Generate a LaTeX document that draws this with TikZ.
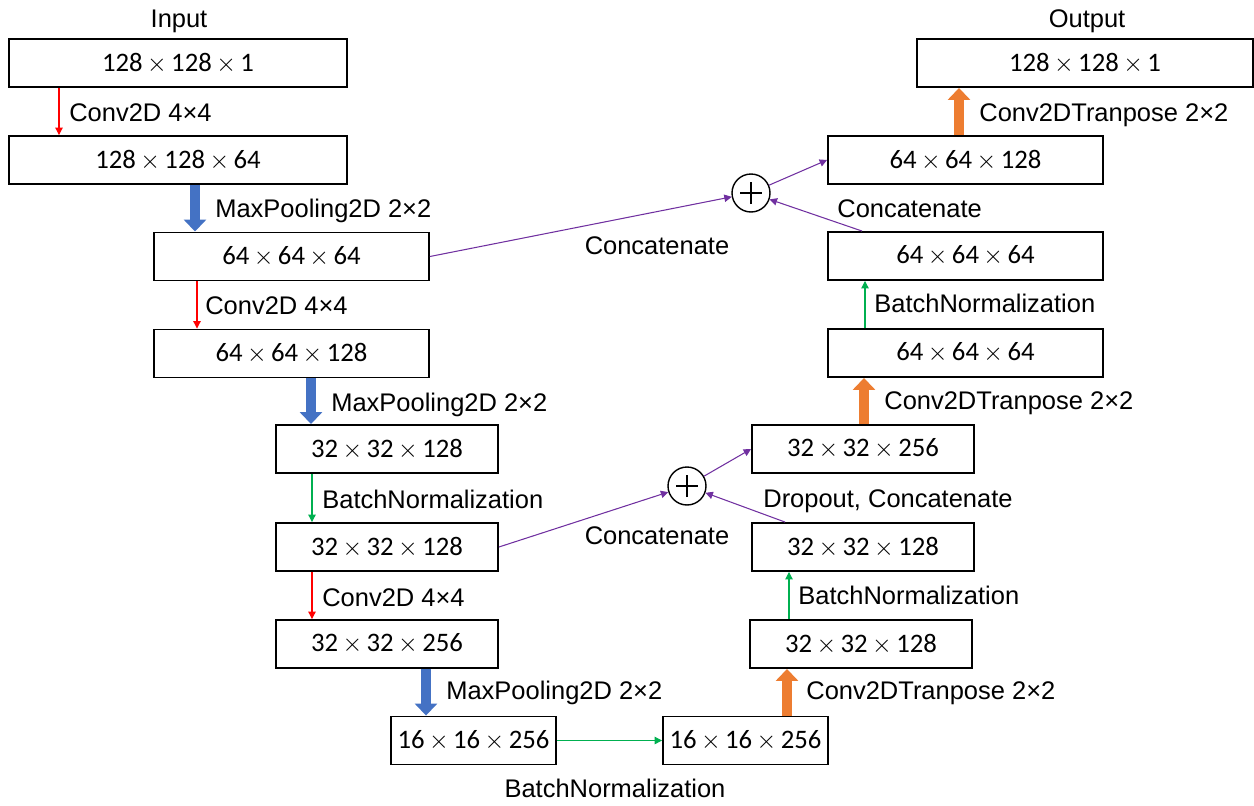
\documentclass[tikz,border=0pt]{standalone}
\usepackage{fontspec}
\setmainfont{Liberation Sans}
\newfontfamily\boxfont{Carlito}
\usetikzlibrary{arrows.meta}
\definecolor{cred}{RGB}{255,0,0}
\definecolor{cgreen}{RGB}{0,176,80}
\definecolor{cblue}{RGB}{68,114,196}
\definecolor{corange}{RGB}{237,125,49}
\definecolor{cpurple}{RGB}{112,48,160}
\newcommand\tx{\,$\times$\,}
\begin{document}
\begin{tikzpicture}[x=0.02cm,y=-0.02cm,
  layer/.style={draw, line width=1.1pt, minimum height=0.96cm, inner sep=0pt,
    font=\boxfont\fontsize{15.2pt}{16pt}\selectfont},
  wA/.style={minimum width=6.76cm},
  wB/.style={minimum width=5.5cm},
  wC/.style={minimum width=4.44cm},
  wD/.style={minimum width=3.3cm},
  lbl/.style={font=\fontsize{14.5pt}{16pt}\selectfont, inner sep=0pt},
  thin/.style={line width=0.6pt, -{Triangle[width=4.2pt,length=4.2pt]}},
  fat/.style={line width=5.8pt, -{Triangle[width=12.5pt,length=6.8pt]}},
  sum/.style={circle, draw, line width=0.8pt, minimum size=0.76cm, inner sep=0pt}
]
\useasboundingbox (0,0) rectangle (1254,805);

% boxes
\node[layer,wA] (b1) at (178,63) {128\tx128\tx1};
\node[layer,wA] (b2) at (178,160) {128\tx128\tx64};
\node[layer,wB] (b3) at (291.5,256.5) {64\tx64\tx64};
\node[layer,wB] (b4) at (291.5,353.5) {64\tx64\tx128};
\node[layer,wC] (b5) at (387,449) {32\tx32\tx128};
\node[layer,wC] (b6) at (387,547) {32\tx32\tx128};
\node[layer,wC] (b7) at (387,644) {32\tx32\tx256};
\node[layer,wD] (b8) at (473.5,740.5) {16\tx16\tx256};
\node[layer,wD] (b9) at (745.5,740.5) {16\tx16\tx256};
\node[layer,wC] (b10) at (861,644) {32\tx32\tx128};
\node[layer,wC] (b11) at (863,547) {32\tx32\tx128};
\node[layer,wC] (b12) at (863,449) {32\tx32\tx256};
\node[layer,wB] (b13) at (965.5,353) {64\tx64\tx64};
\node[layer,wB] (b14) at (965.5,256) {64\tx64\tx64};
\node[layer,wB] (b15) at (965.5,160) {64\tx64\tx128};
\node[layer,minimum width=6.72cm] (b16) at (1085,63) {128\tx128\tx1};

% sum circles
\node[sum] (c1) at (751,193) {};
\node[sum] (c2) at (687,486) {};
\foreach \c in {c1,c2}{
  \draw[line width=0.9pt] ([xshift=-0.22cm]\c.center) -- ([xshift=0.22cm]\c.center);
  \draw[line width=0.9pt] ([yshift=-0.22cm]\c.center) -- ([yshift=0.22cm]\c.center);
}

% encoder arrows
\draw[thin,cred] (59,0 |- b1.south) -- (59,0 |- b2.north);
\draw[fat,cblue] (195,0 |- b2.south) -- (195,0 |- b3.north);
\draw[thin,cred] (197,0 |- b3.south) -- (197,0 |- b4.north);
\draw[fat,cblue] (311,0 |- b4.south) -- (311,0 |- b5.north);
\draw[thin,cgreen] (312,0 |- b5.south) -- (312,0 |- b6.north);
\draw[thin,cred] (312,0 |- b6.south) -- (312,0 |- b7.north);
\draw[fat,cblue] (426,0 |- b7.south) -- (426,0 |- b8.north);
\draw[thin,cgreen] (b8.east) -- (b9.west);

% decoder arrows
\draw[fat,corange] (787,0 |- b9.north) -- (787,0 |- b10.south);
\draw[thin,cgreen] (789,0 |- b10.north) -- (789,0 |- b11.south);
\draw[thin,cpurple] (785,0 |- b11.north) -- (c2);
\draw[thin,cpurple] (b6.east) -- (c2);
\draw[thin,cpurple] (c2) -- (b12.west);
\draw[fat,corange] (864,0 |- b12.north) -- (864,0 |- b13.south);
\draw[thin,cgreen] (865,0 |- b13.north) -- (865,0 |- b14.south);
\draw[thin,cpurple] (862,0 |- b14.north) -- (c1);
\draw[thin,cpurple] (b3.east) -- (c1);
\draw[thin,cpurple] (c1) -- (b15.west);
\draw[fat,corange] (959,0 |- b15.north) -- (959,0 |- b16.south);

% labels
\node[lbl,anchor=base] (tin) at (179,27) {Input};
\node[lbl,anchor=base] (tout) at (1087,27) {Output};
\node[lbl,anchor=base west] (l1) at (69,121) {Conv2D 4×4};
\node[lbl,anchor=base west] (l2) at (215,217) {MaxPooling2D 2×2};
\node[lbl,anchor=base west] (l3) at (205,314) {Conv2D 4×4};
\node[lbl,anchor=base west] (l4) at (331,411) {MaxPooling2D 2×2};
\node[lbl,anchor=base west] (l5) at (322,508) {BatchNormalization};
\node[lbl,anchor=base west] (l6) at (322,606) {Conv2D 4×4};
\node[lbl,anchor=base west] (l7) at (446,699) {MaxPooling2D 2×2};
\node[lbl,anchor=base] (l8) at (615,797) {BatchNormalization};
\node[lbl,anchor=base west] (l9) at (806,699) {Conv2DTranpose 2×2};
\node[lbl,anchor=base west] (l10) at (798,604) {BatchNormalization};
\node[lbl,anchor=base west] (l11) at (763,507) {Dropout, Concatenate};
\node[lbl,anchor=base] (l12) at (657,544) {Concatenate};
\node[lbl,anchor=base west] (l13) at (884,409) {Conv2DTranpose 2×2};
\node[lbl,anchor=base west] (l14) at (874,312) {BatchNormalization};
\node[lbl,anchor=base west] (l15) at (837,217) {Concatenate};
\node[lbl,anchor=base] (l16) at (657,254) {Concatenate};
\node[lbl,anchor=base west] (l17) at (979,121) {Conv2DTranpose 2×2};
\end{tikzpicture}
\end{document}
